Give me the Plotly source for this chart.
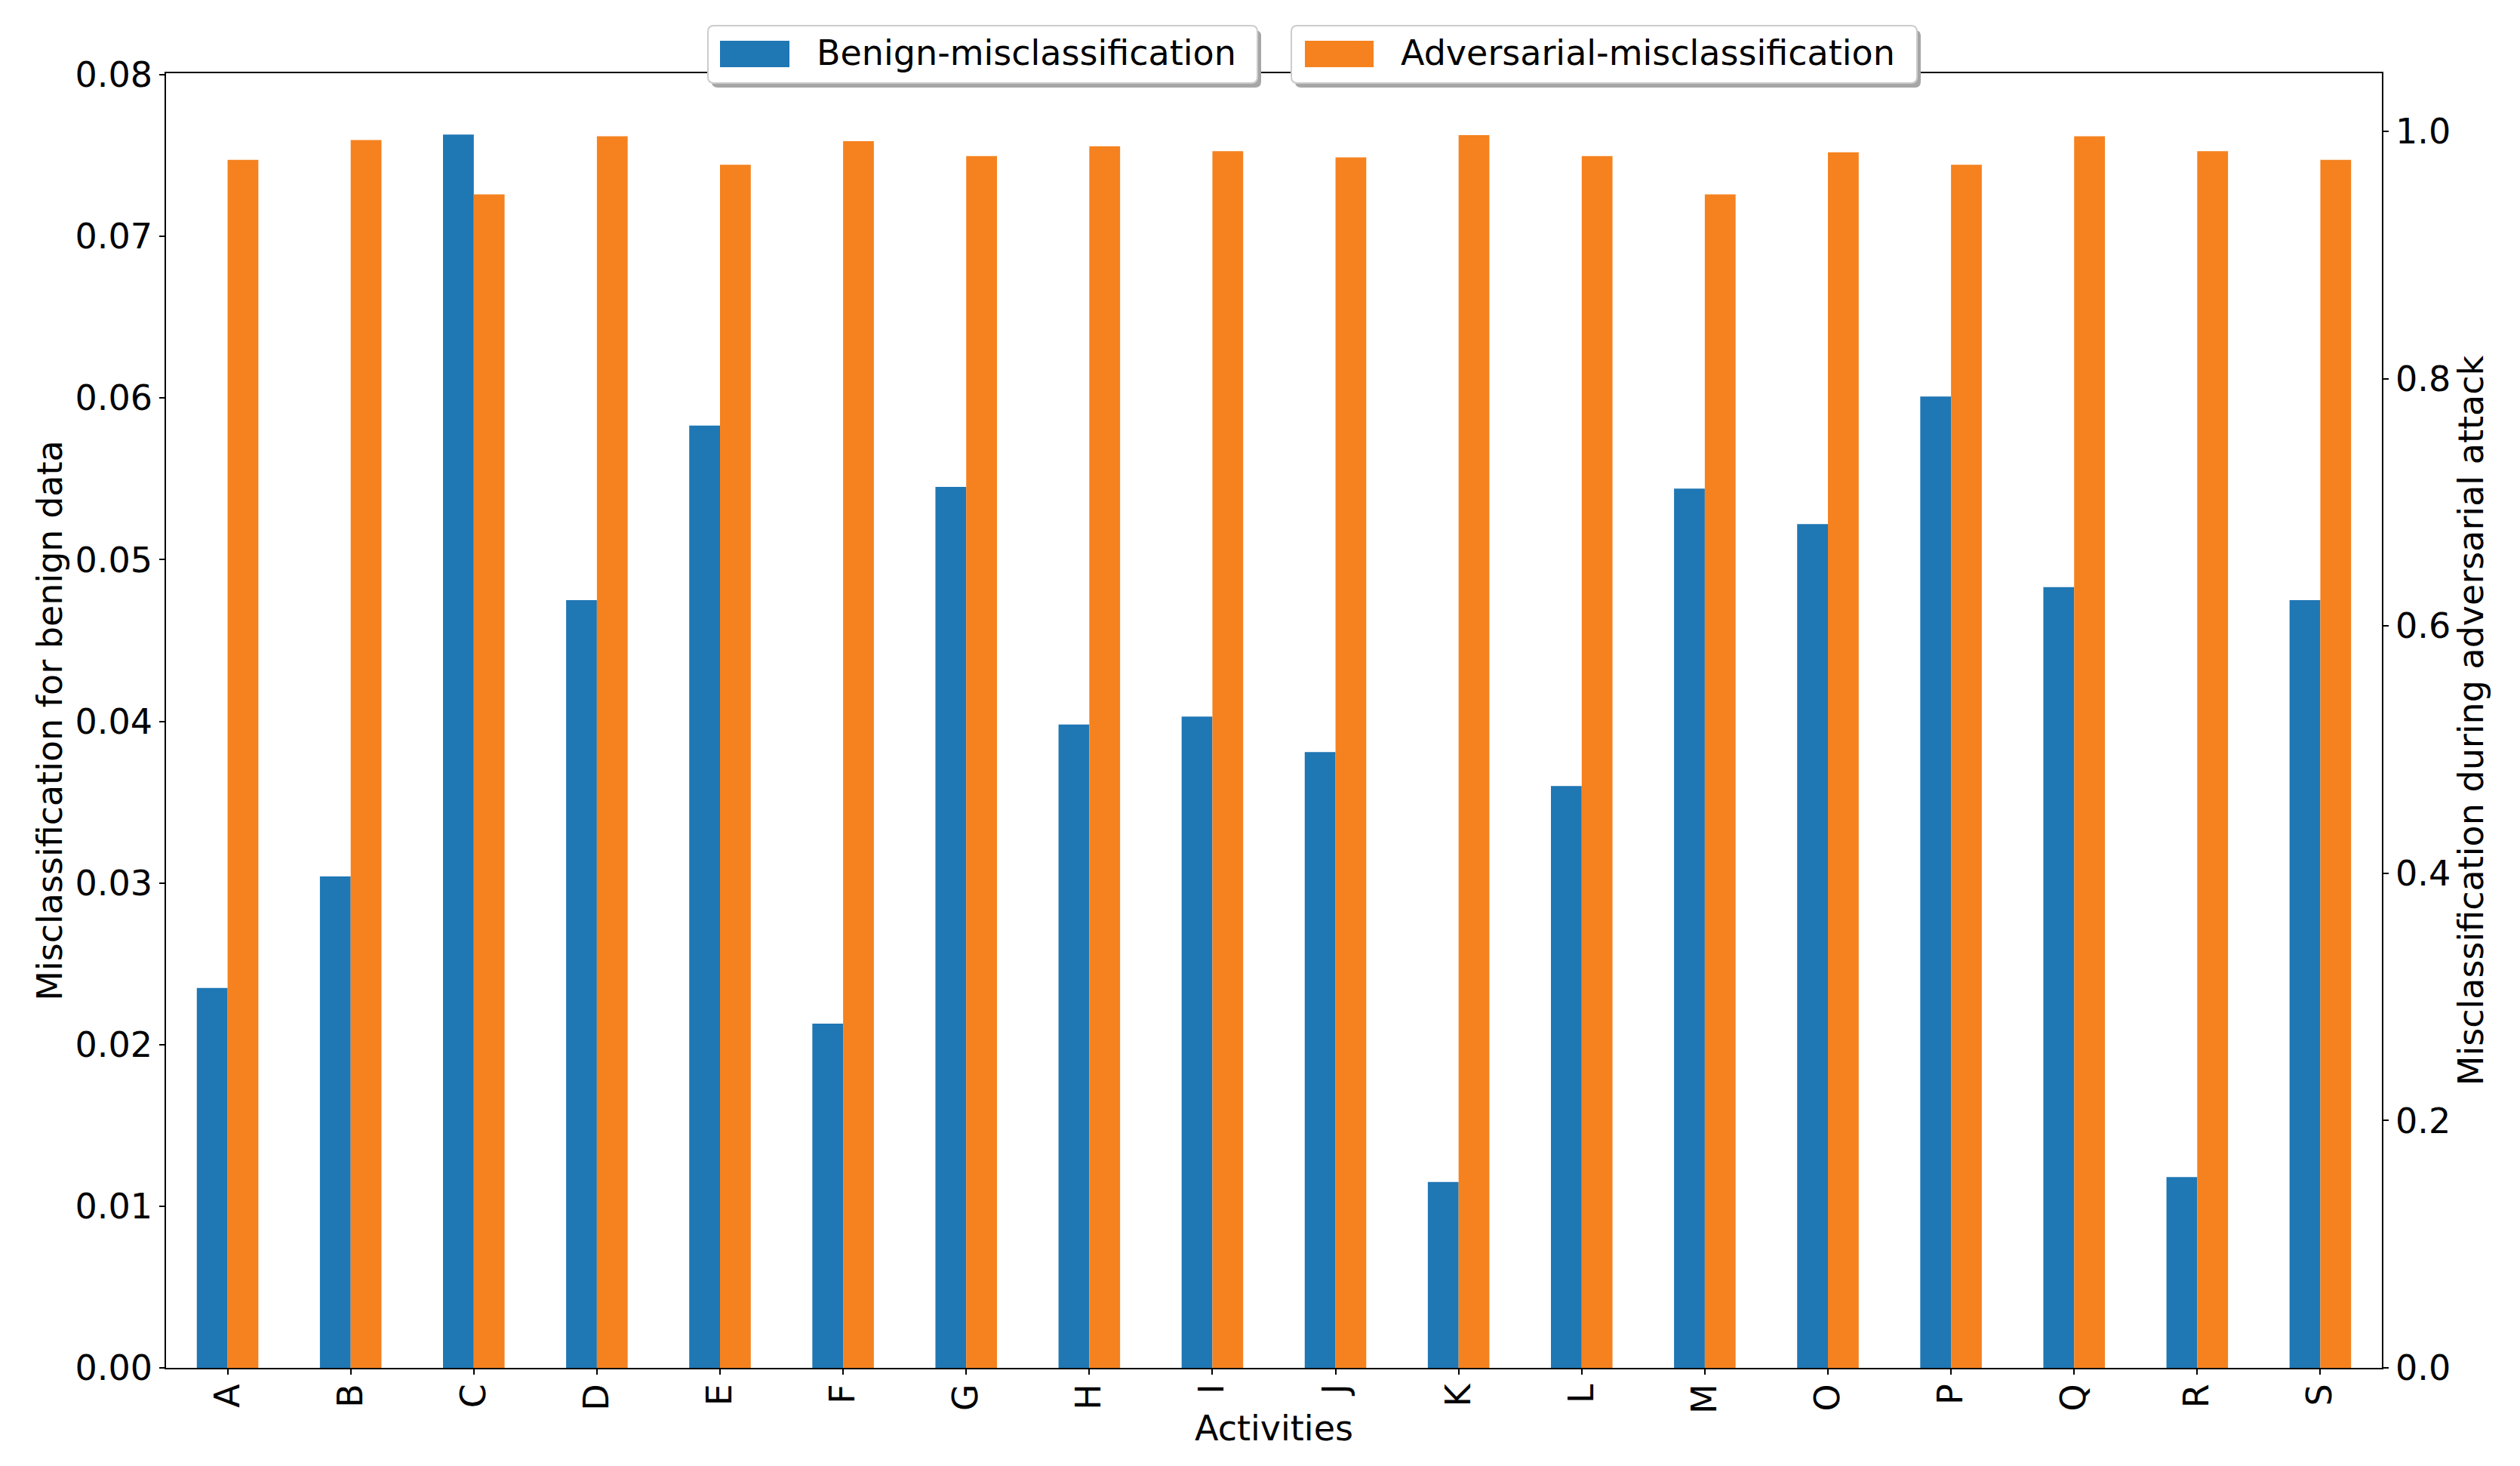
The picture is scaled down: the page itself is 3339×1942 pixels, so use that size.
import plotly.graph_objects as go

categories = ["A", "B", "C", "D", "E", "F", "G", "H", "I", "J", "K", "L", "M", "O", "P", "Q", "R", "S"]
benign = [0.0235, 0.0304, 0.0763, 0.0475, 0.0583, 0.0213, 0.0545, 0.0398, 0.0403, 0.0381,
          0.0115, 0.0360, 0.0544, 0.0522, 0.0601, 0.0483, 0.0118, 0.0475]
adversarial = [0.977, 0.993, 0.949, 0.996, 0.973, 0.992, 0.980, 0.988, 0.984, 0.979,
               0.997, 0.980, 0.949, 0.983, 0.973, 0.996, 0.984, 0.977]
left_ticks = [0.00, 0.01, 0.02, 0.03, 0.04, 0.05, 0.06, 0.07, 0.08]
right_ticks = [0.0, 0.2, 0.4, 0.6, 0.8, 1.0]

BLUE = "#1f77b4"
ORANGE = "#f5821f"
FONT = "DejaVu Sans"
FS = 46

# page is offset by the 8px body margin
OFF = 8
PAGE_W, PAGE_H = 3339, 1942
# plot area in page pixels
PL, PR, PT, PB = 220, 3156, 97, 1812
W, H = PAGE_W - 2 * OFF, PAGE_H - 2 * OFF
ML, MT = PL - OFF, PT - OFF
MR = W - ML - (PR - PL)
MB = H - MT - (PB - PT)

pw = PR - PL
ph = PB - PT


def px(x):
    return (x - PL) / pw


def py(y):
    return (PB - y) / ph


fig = go.Figure()
fig.add_trace(go.Bar(
    x=categories, y=benign, name="Benign-misclassification",
    marker=dict(color=BLUE, line=dict(width=0)),
    width=0.25, offset=-0.25, yaxis="y", legend="legend",
))
fig.add_trace(go.Bar(
    x=categories, y=adversarial, name="Adversarial-misclassification",
    marker=dict(color=ORANGE, line=dict(width=0)),
    width=0.25, offset=0.0, yaxis="y2", legend="legend2",
))


def rounded_rect(x0, y0, x1, y1, r):
    X = lambda v: f"{px(v):.6f}"
    Y = lambda v: f"{py(v):.6f}"
    return (
        f"M {X(x0 + r)},{Y(y0)} L {X(x1 - r)},{Y(y0)} Q {X(x1)},{Y(y0)} {X(x1)},{Y(y0 + r)} "
        f"L {X(x1)},{Y(y1 - r)} Q {X(x1)},{Y(y1)} {X(x1 - r)},{Y(y1)} "
        f"L {X(x0 + r)},{Y(y1)} Q {X(x0)},{Y(y1)} {X(x0)},{Y(y1 - r)} "
        f"L {X(x0)},{Y(y0 + r)} Q {X(x0)},{Y(y0)} {X(x0 + r)},{Y(y0)} Z"
    )


shapes = []
boxes = [((938, 34, 1666, 110), (954, 54, 1046, 89), BLUE),
         ((1711, 34, 2540, 110), (1729, 54, 1820, 89), ORANGE)]
for (bx0, by0, bx1, by1), (sx0, sy0, sx1, sy1), col in boxes:
    shapes.append(dict(type="path", xref="paper", yref="paper", layer="above",
                       path=rounded_rect(bx0 + 5, by0 + 6, bx1 + 5, by1 + 6, 8),
                       fillcolor="#a6a6a6", line=dict(width=0)))
    shapes.append(dict(type="path", xref="paper", yref="paper", layer="above",
                       path=rounded_rect(bx0, by0, bx1, by1, 8),
                       fillcolor="white", line=dict(color="#cccccc", width=2)))
    shapes.append(dict(type="rect", xref="paper", yref="paper", layer="above",
                       x0=px(sx0), x1=px(sx1), y0=py(sy1), y1=py(sy0),
                       fillcolor=col, line=dict(width=0)))

legend_common = dict(
    bgcolor="rgba(0,0,0,0)", borderwidth=0, itemwidth=100,
    font=dict(family=FONT, size=FS, color="black"),
    yanchor="top", xanchor="left", orientation="h",
)

axis_common = dict(
    showgrid=False, ticks="outside", ticklen=7, tickwidth=1.7, tickcolor="black",
    showline=True, linecolor="black", linewidth=1.7, zeroline=False,
)

fig.update_layout(
    width=W, height=H,
    margin=dict(l=ML, r=MR, t=MT, b=MB),
    paper_bgcolor="white", plot_bgcolor="white",
    font=dict(family=FONT, size=FS, color="black"),
    barmode="overlay",
    xaxis=dict(
        range=[-0.5, 17.5], tickangle=-90, mirror=True, ticklabelstandoff=-6,
        title=dict(text="Activities", font=dict(family=FONT, size=FS), standoff=4),
        **axis_common,
    ),
    yaxis=dict(
        range=[0, 0.0801], tickvals=left_ticks, tickformat=".2f",
        title=dict(text="Misclassification for benign data", font=dict(family=FONT, size=FS), standoff=2),
        **axis_common,
    ),
    yaxis2=dict(
        range=[0, 1.047], tickvals=right_ticks, tickformat=".1f",
        overlaying="y", side="right",
        title=dict(text="Misclassification during adversarial attack", font=dict(family=FONT, size=FS), standoff=0),
        **axis_common,
    ),
    legend=dict(x=px(972), y=py(32), **legend_common),
    legend2=dict(x=px(1746), y=py(32), **legend_common),
    shapes=shapes,
    showlegend=True,
)

fig.write_html("out.html")
